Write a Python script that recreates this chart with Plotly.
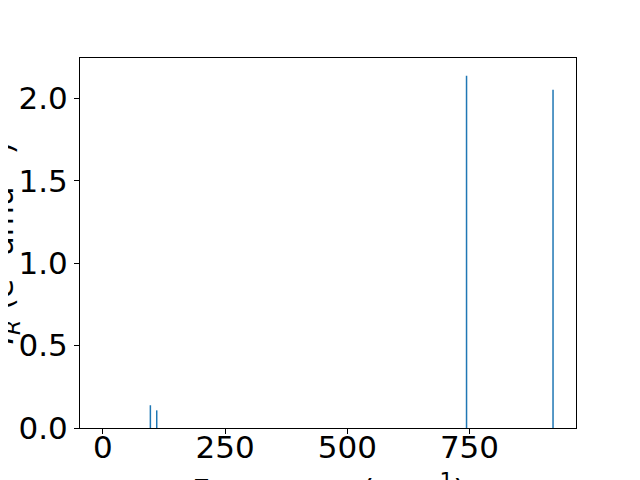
import plotly.graph_objects as go

# Data
frequencies = [0.0, 97.0, 110.0, 744.0, 921.0]   # cm^-1
intensities = [0.0, 0.138, 0.107, 2.137, 2.051]  # e^2 amu^-1

x_ticks = [0, 250, 500, 750]
y_ticks = [0.0, 0.5, 1.0, 1.5, 2.0]

# Build vertical sticks
xs, ys = [], []
for f, i in zip(frequencies, intensities):
    xs += [f, f, None]
    ys += [0, i, None]

fig = go.Figure()
fig.add_trace(go.Scatter(x=xs, y=ys, mode="lines",
                         line=dict(color="#1f77b4", width=1.5),
                         showlegend=False, hoverinfo="skip"))

font = dict(family="DejaVu Sans", size=31, color="black")

axis_common = dict(showline=True, linecolor="black", linewidth=1.1, mirror=True,
                   ticks="outside", ticklen=5, tickwidth=1.1, tickcolor="black",
                   showgrid=False, zeroline=False, tickfont=font)

fig.update_layout(
    width=640, height=480,
    margin=dict(l=72, r=72, t=50, b=60, autoexpand=False),
    paper_bgcolor="white", plot_bgcolor="white",
    font=font,
    xaxis=dict(range=[-47, 968], tickvals=x_ticks, ticklabelstandoff=-13, **axis_common),
    yaxis=dict(range=[0, 2.244], tickvals=y_ticks, tickformat=".1f", **axis_common),
)

fig.add_annotation(text="Frequency (cm<sup>−1</sup>)", xref="paper", yref="paper",
                   x=0.5, y=-0.161, xanchor="center", yanchor="middle",
                   showarrow=False, font=font)
fig.add_annotation(text="<i>I</i><sub><i>R</i></sub> (e<sup>2</sup> amu<sup>−1</sup>)",
                   xref="paper", yref="paper", textangle=-90,
                   x=-0.157, y=0.5, xanchor="center", yanchor="middle",
                   showarrow=False, font=font)

fig.write_html("out.html")
